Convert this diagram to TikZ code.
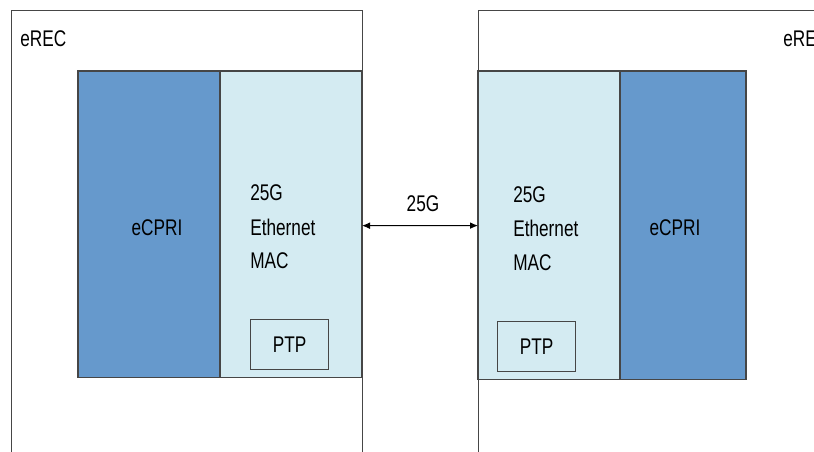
\documentclass[tikz,border=0pt]{standalone}
\usepackage{fontspec}
\setmainfont[FakeStretch=0.76]{Liberation Sans}
\usetikzlibrary{arrows.meta}
\definecolor{ecpriblue}{RGB}{102,153,204}
\definecolor{maccyan}{RGB}{212,235,242}
\definecolor{edgegray}{RGB}{70,70,70}
\tikzset{
  px/.style={x=0.75pt,y=-0.75pt},
  outerbox/.style={draw=edgegray,line width=1pt,fill=white},
  blockbox/.style={draw=edgegray,line width=1pt,inner sep=0pt,outer sep=0pt},
  ecpribox/.style={blockbox,fill=ecpriblue},
  macbox/.style={blockbox,fill=maccyan},
  ptpbox/.style={draw=edgegray,line width=0.8pt,fill=maccyan,inner sep=0pt,
    minimum width=58.5pt,minimum height=37.5pt},
  lbl/.style={font=\fontsize{17}{25.5}\selectfont,inner sep=0pt},
  maclbl/.style={lbl,align=left,anchor=base west},
  link/.style={{Latex[length=6pt,width=5pt]}-{Latex[length=6pt,width=5pt]},line width=0.7pt,black}
}
\begin{document}
\begin{tikzpicture}[px]
  \useasboundingbox (0,0) rectangle (814,452);
  \clip (0,0) rectangle (814,452);

  % system enclosures
  \node[outerbox,anchor=north west,minimum width=263pt,minimum height=360pt,inner sep=0pt] (lsys) at (11,10) {};
  \node[outerbox,anchor=north west,minimum width=300pt,minimum height=360pt,inner sep=0pt] (rsys) at (478,10) {};
  \node[lbl,anchor=base west] (lname) at (20,47) {eREC};
  \node[lbl,anchor=base west] (rname) at (783,47) {eREC};

  % left stack
  \node[ecpribox,anchor=north west,minimum width=106.5pt,minimum height=230pt] (lcpri) at (78,71) {};
  \node[macbox,anchor=north west,minimum width=106.5pt,minimum height=230pt] (lmac) at (220,71) {};
  \node[lbl,anchor=base] (lcpritxt) at (157,236) {eCPRI};
  % the base anchor of a multi-line label sits on its last line
  \node[maclbl] (lmactxt) at (250,269) {25G\\Ethernet\\MAC};
  \node[ptpbox,anchor=north west] (lptp) at (250,319) {};
  \node[lbl] at (lptp.center) {PTP};

  % right stack
  \node[macbox,anchor=north west,minimum width=106.5pt,minimum height=231.5pt] (rmac) at (478,71) {};
  \node[ecpribox,anchor=north west,minimum width=94.5pt,minimum height=231.5pt] (rcpri) at (620,71) {};
  \node[lbl,anchor=base] (rcpritxt) at (675,236) {eCPRI};
  \node[maclbl] (rmactxt) at (513,271) {25G\\Ethernet\\MAC};
  \node[ptpbox,anchor=north west] (rptp) at (497,321) {};
  \node[lbl] at (rptp.center) {PTP};

  % 25G link
  \draw[link] ([yshift=-1pt]lmac.east) -- ([yshift=-0.2pt]rmac.west);
  \node[lbl,anchor=base] (linkrate) at (423,212) {25G};
\end{tikzpicture}
\end{document}
